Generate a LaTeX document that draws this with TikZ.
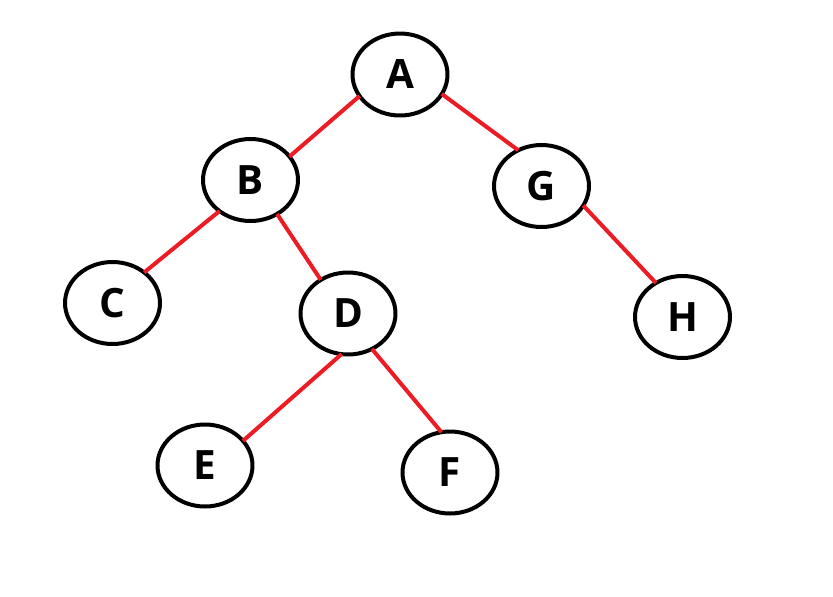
\documentclass[tikz,border=0pt]{standalone}
\usepackage{fontspec}
\setmainfont{Open Sans}
\usepackage{xcolor}
\usepackage{tikz}
\usetikzlibrary{shapes}
\definecolor{edgered}{HTML}{ED1C24}

\begin{document}
\begin{tikzpicture}[
    x=0.02cm, y=-0.02cm,
    vertex/.style={ellipse, draw, line width=0.08cm, minimum width=1.9cm, minimum height=1.64cm, inner sep=0pt, outer sep=0pt, font=\fontsize{23}{27}\selectfont\bfseries},
    edge/.style={draw=edgered, line width=0.08cm}
]
    \useasboundingbox (0,0) rectangle (833,596);
    \node[vertex] (A) at (400,74.5) {A};
    \node[vertex] (B) at (250.5,180) {B};
    \node[vertex] (G) at (541.5,186) {G};
    \node[vertex] (C) at (112.5,303) {C};
    \node[vertex] (D) at (348,313.5) {D};
    \node[vertex] (H) at (682.5,317) {H};
    \node[vertex] (E) at (205,465.5) {E};
    \node[vertex] (F) at (450,472.5) {F};

    \draw[edge] (A.-152) -- (B.31);
    \draw[edge] (A.-25) -- (G.123);
    \draw[edge] (B.-135) -- (C.44);
    \draw[edge] (B.-52) -- (D.129);
    \draw[edge] (D.-99) -- (E.33);
    \draw[edge] (D.-56) -- (F.102);
    \draw[edge] (G.-25) -- (H.128);
\end{tikzpicture}
\end{document}
